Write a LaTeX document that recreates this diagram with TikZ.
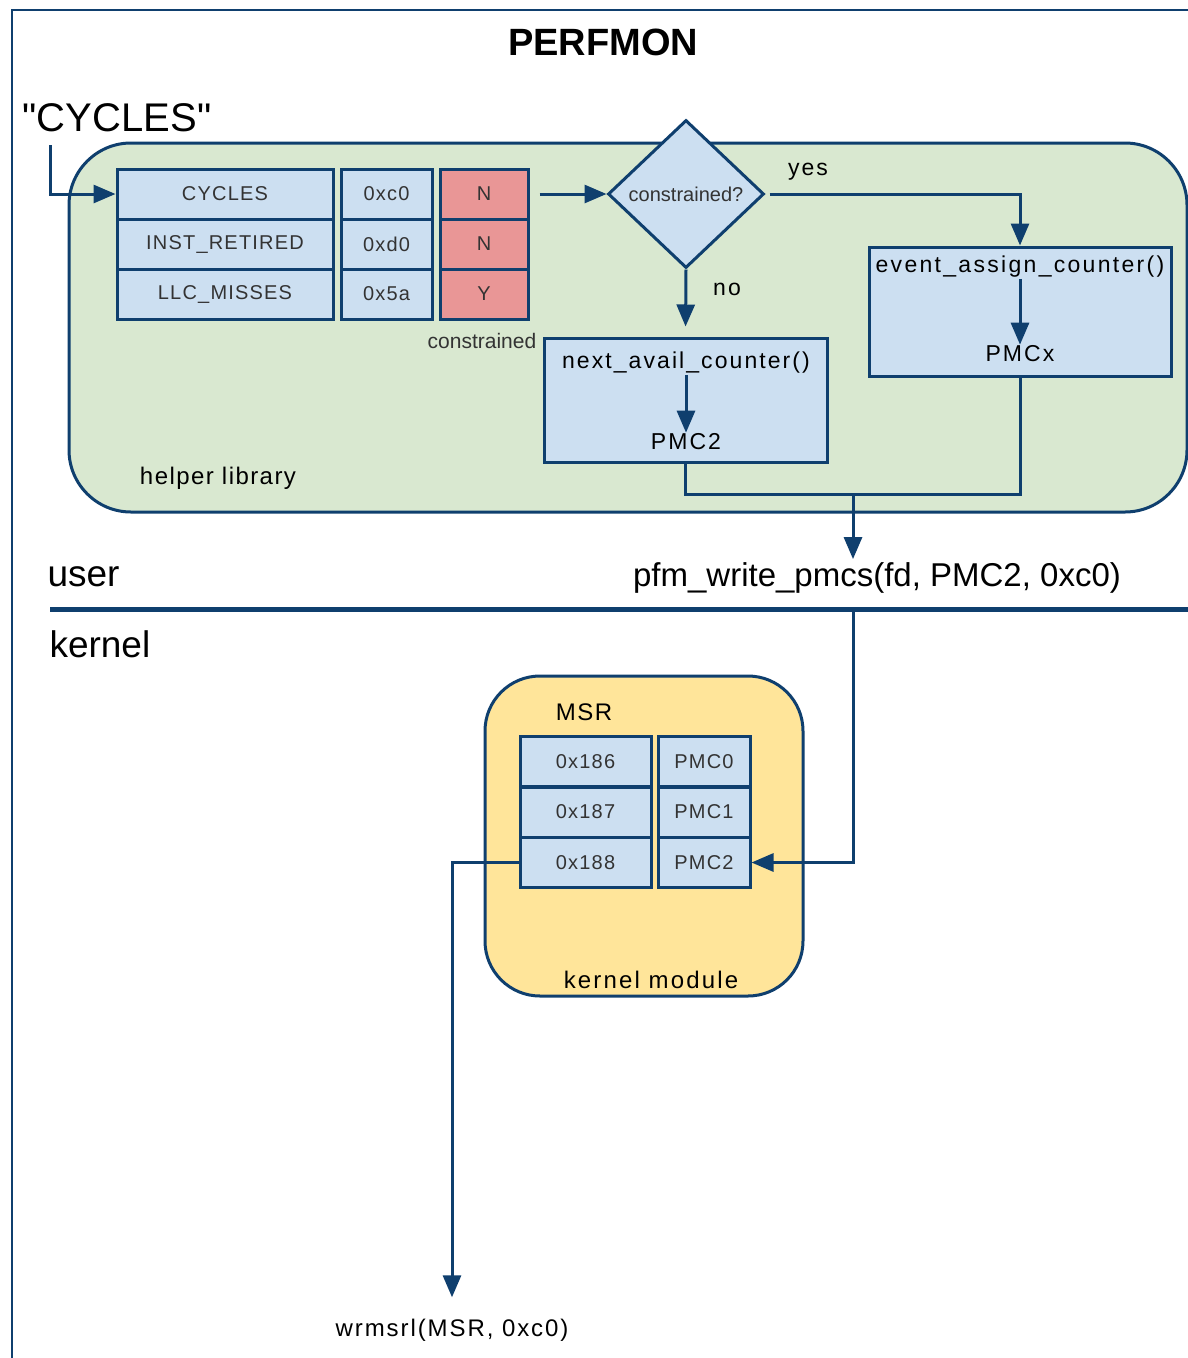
\documentclass[tikz,border=0pt]{standalone}
\usepackage{fontspec}
\setmainfont{Liberation Sans}
\usetikzlibrary{arrows.meta,shapes.geometric}

\definecolor{dblue}{HTML}{0F3F6E}
\definecolor{lblue}{HTML}{CCDFF1}
\definecolor{lgreen}{HTML}{D9E8D0}
\definecolor{lred}{HTML}{E99696}
\definecolor{lyellow}{HTML}{FFE59A}
\definecolor{cgray}{HTML}{333333}

% size plus optional tracking
\newcommand{\fsz}[1]{\fontsize{#1}{#1}\selectfont}
\newcommand{\fszs}[2]{\fontsize{#1}{#1}\selectfont\addfontfeature{LetterSpace=#2}}

\tikzset{
  line/.style={draw=dblue, line width=3pt},
  arr/.style={line, -{Triangle[length=22pt,width=18pt]}},
  cell/.style={draw=dblue, line width=3pt, fill=lblue, inner sep=0pt,
    text=cgray, font={\fszs{20}{6}}, minimum height=50pt},
  redcell/.style={cell, fill=lred},
  box/.style={draw=dblue, line width=3pt, fill=lblue, inner sep=0pt},
  region/.style={draw=dblue, line width=3pt, inner sep=0pt},
  txt/.style={inner sep=1pt, font={\fszs{23}{9}}},
}

\begin{document}
\begin{tikzpicture}[x=1pt, y=-1pt]
\useasboundingbox (0,0) rectangle (1188,1358);
\fill[white] (0,0) rectangle (1188,1358);

% outer frame
\draw[draw=dblue, line width=2.5pt] (12,1358) -- (12,10) -- (1188,10);

% title
\node[font=\fsz{38}\bfseries] (title) at (603,42) {PERFMON};

% requested event name
\node[font=\fsz{40}] (evname) at (117,118) {\textquotedbl CYCLES\textquotedbl};
\coordinate (inp) at (50,145);

% helper library region
\node[region, fill=lgreen, rounded corners=62pt, minimum width=1118pt,
      minimum height=369pt] (helper) at (628,327.5) {};
\node[font={\fszs{24}{6}}] (hlbl) at (218,478) {helper library};

% event table
\foreach \r/\n/\c/\f/\y in {1/CYCLES/0xc0/N/194, 2/INST\_RETIRED/0xd0/N/244, 3/LLC\_MISSES/0x5a/Y/294}{
  \node[cell, minimum width=216pt] (name\r) at (225,\y) {\n};
  \node[cell, minimum width=91pt] (code\r) at (386.5,\y) {\c};
  \node[redcell, minimum width=88pt] (flag\r) at (484,\y) {\f};
}
\node[font=\fsz{21}, text=cgray] (clbl) at (482,341) {constrained};

\draw[arr] (inp) |- (name1.west);

% decision
\node[box, diamond, minimum width=156pt, minimum height=148pt,
      label={[font=\fsz{20}, text=cgray]center:constrained?}] (dec) at (686,194) {};
\draw[arr, shorten <=10pt] (flag1.east) -- (dec.west);

% constrained: fixed counter
\node[box, minimum width=302pt, minimum height=129pt] (ev) at (1020,311.5) {};
\node[txt, font={\fszs{23}{10}}] (evt) at (1020,267) {event\_assign\_counter()};
\node[txt] (evp) at (1020,354) {PMCx};
\draw[arr] (evt) -- (evp);
\draw[arr, shorten <=4pt] (dec.east) -| (ev.north);
\node[txt] (yes) at (808,172) {yes};

% unconstrained: next free counter
\node[box, minimum width=283pt, minimum height=124pt] (nx) at (685.5,400) {};
\node[txt] (nxt) at (686,363) {next\_avail\_counter()};
\node[txt] (nxp) at (686,442) {PMC2};
\draw[arr] (nxt) -- (nxp);
\draw[arr, shorten >=10pt] (dec.south) -- (nx.north);
\node[txt] (no) at (727,289) {no};

% merge and call into the kernel
\coordinate (merge) at (853,494);
\draw[line] (nx.south) |- (merge) -| (ev.south);
\node[font=\fsz{33}] (pfm) at (877,578) {pfm\_write\_pmcs(fd, PMC2, 0xc0)};
\draw[arr] (merge) -- (merge |- pfm.north);

% user / kernel boundary
\node[font=\fsz{37}, anchor=west] (user) at (44,577) {user};
\node[font=\fsz{37}, anchor=west] (kern) at (46,644) {kernel};
\coordinate (divl) at (50,609);
\coordinate (divr) at (1188,609);
\draw[draw=dblue, line width=5pt] (divl) -- (divr);

% kernel module
\node[region, fill=lyellow, rounded corners=55pt, minimum width=318pt,
      minimum height=320pt] (kmod) at (644,836) {};
\node[font={\fszs{24}{6}}] (msr) at (584,712) {MSR};
\node[font={\fszs{24}{9}}] (klbl) at (651,980) {kernel module};

\foreach \r/\a/\p/\y in {0/0x186/PMC0/761.5, 1/0x187/PMC1/812, 2/0x188/PMC2/862.5}{
  \node[cell, minimum width=131pt] (addr\r) at (585.5,\y) {\a};
  \node[cell, minimum width=92pt] (pmc\r) at (704,\y) {\p};
}

\coordinate (kin) at (853,612);
\draw[arr] (kin) |- (pmc2.east);

\node[font={\fszs{24}{8}}] (wr) at (452,1330) {wrmsrl(MSR, 0xc0)};
\draw[arr, shorten >=18pt] (addr2.west) -| (wr.north);
\end{tikzpicture}
\end{document}
